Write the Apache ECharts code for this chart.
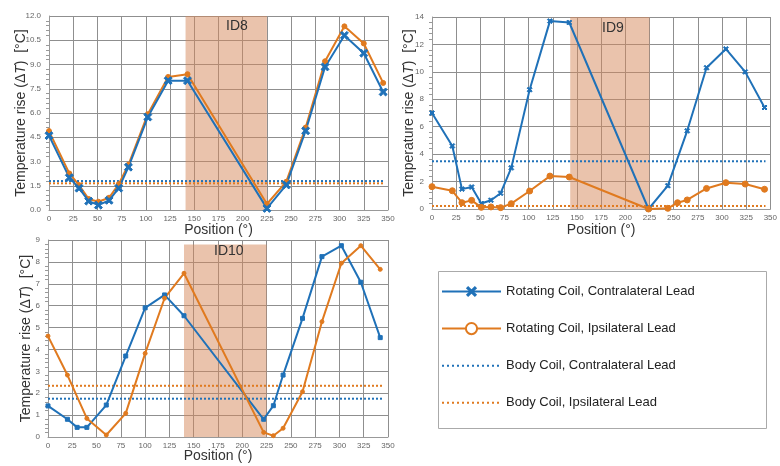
<!DOCTYPE html>
<html><head><meta charset="utf-8">
<script src="https://cdn.jsdelivr.net/npm/echarts@6/dist/echarts.min.js"></script>
<style>html,body{margin:0;padding:0;background:#fff}#c{width:780px;height:466px}</style>
</head><body><div id="c"></div>
<script>
// ---- data ----
const names = ['Rotating Coil, Contralateral Lead','Rotating Coil, Ipsilateral Lead','Body Coil, Contralateral Lead','Body Coil, Ipsilateral Lead'];
const panelLabels = ['ID8','ID9','ID10'];
// ID8
const pos8 = [0,21,31,41,51,62,72,82,102,123,143,225,245,265,285,305,325,345];
const contra8 = [4.6,2.0,1.35,0.55,0.3,0.6,1.35,2.65,5.75,8.0,8.0,0.1,1.55,4.9,8.85,10.8,9.7,7.3];
const ipsi8 = [4.88,2.26,1.54,0.68,0.51,0.76,1.6,2.8,5.93,8.23,8.4,0.37,1.75,5.1,9.2,11.36,10.3,7.86];
const body8 = [1.79,1.65];
// ID9
const pos9c = [0,21,31,41,51,61,71,82,101,122,142,224,244,264,284,304,324,344];
const contra9 = [7.0,4.6,1.45,1.6,0.4,0.64,1.15,3.0,8.7,13.7,13.6,0.0,1.7,5.7,10.3,11.67,10.0,7.4];
const pos9i = [0,21,31,41,51,61,71,82,101,122,142,224,244,254,264,284,304,324,344];
const ipsi9 = [1.63,1.33,0.46,0.63,0.12,0.15,0.1,0.39,1.31,2.4,2.33,0.0,0.05,0.46,0.66,1.5,1.92,1.82,1.44];
const body9 = [3.48,0.22];
// ID10
const pos10c = [0,20,30,40,60,80,100,120,140,222,232,242,262,282,302,322,342];
const contra10 = [1.42,0.81,0.44,0.44,1.46,3.7,5.9,6.49,5.54,0.81,1.43,2.83,5.42,8.24,8.74,7.07,4.54];
const pos10i = [0,20,40,60,80,100,120,140,222,232,242,262,282,302,322,342];
const ipsi10 = [4.61,2.83,0.85,0.09,1.08,3.82,6.34,7.48,0.21,0.06,0.4,2.07,5.27,7.94,8.74,7.66];
const body10 = [1.75,2.34];
const bodyRange = [0,345];
// shaded sectors [start,end,top]
const shade8 = [141,225,12];
const shade9 = [143,225,14];
const shade10 = [140,225,8.8];
const yMax = [12,14,9];
const yStep = [1.5,2,1];
const xTicks = [0,350,25];

// ---- styling ----
const BLUE = '#1f71b8', ORANGE = '#e07a1f';
const FONT = 'Liberation Sans, Arial, sans-serif';
const XSYM = 'path://M0,2L2,0L5,3L8,0L10,2L7,5L10,8L8,10L5,7L2,10L0,8L3,5Z';
const zip = (xs, ys) => xs.map((x,i)=>[x, ys[i]]);

const grids = [
  {left:49, top:16, width:339, height:194},
  {left:432, top:17, width:341, height:192},
  {left:48, top:240, width:340, height:197}
];
const xNameGap = [13,14,12];
const yNameGap = [21,16,15];

const xAxes = grids.map((g,i)=>({
  type:'value', gridIndex:i, min:xTicks[0], max:xTicks[1], interval:xTicks[2],
  name:'Position (°)', nameLocation:'middle', nameGap:xNameGap[i], nameMoveOverlap:false,
  nameTextStyle:{fontFamily:FONT, fontSize:14, color:'#333'},
  axisLine:{show:true, lineStyle:{color:'#999', width:1}},
  axisTick:{show:false},
  axisLabel:{fontFamily:FONT, fontSize:8, color:'#666', margin:5},
  splitLine:{show:true, lineStyle:{color:'#8f8f8f', width:1}}
}));
const yAxes = grids.map((g,i)=>({
  type:'value', gridIndex:i, min:0, max:yMax[i], interval:yStep[i],
  name:'{a|Temperature rise (Δ}{i|T}{a|)  [°C]}', nameLocation:'middle', nameGap:yNameGap[i], nameMoveOverlap:false,
  nameTextStyle:{rich:{a:{fontFamily:FONT, fontSize:14, color:'#333'}, i:{fontFamily:FONT, fontSize:14, fontStyle:'italic', color:'#333'}}},
  axisLine:{show:true, lineStyle:{color:'#999', width:1}},
  axisTick:{show:false},
  minorTick:{show:true, splitNumber:5, length:3, lineStyle:{color:'#999'}},
  axisLabel:{fontFamily:FONT, fontSize:8, color:'#666', margin:8,
    formatter: i===0 ? (v=>v.toFixed(1)) : (v=>String(v))},
  splitLine:{show:true, lineStyle:{color:'#8f8f8f', width:1}}
}));

function shadeSeries(i, s){
  return {type:'line', xAxisIndex:i, yAxisIndex:i, data:[], silent:true, z:1,
    markArea:{silent:true, itemStyle:{color:'rgba(214,135,90,0.5)'},
      data:[[{xAxis:s[0], yAxis:0},{xAxis:s[1], yAxis:s[2]}]]}};
}
function lineSeries(i, name, color, data, sym, size){
  return {type:'line', name, xAxisIndex:i, yAxisIndex:i, data, z:4,
    symbol:sym, symbolSize:size, showSymbol:true,
    lineStyle:{color, width:2}, itemStyle:{color, borderColor:color},
    animation:false};
}
function bodySeries(i, name, color, v){
  return {type:'line', name, xAxisIndex:i, yAxisIndex:i, z:3,
    data:[[bodyRange[0],v],[bodyRange[1],v]], symbol:'none',
    lineStyle:{color, width:2, type:[2,2]}, animation:false};
}

const series = [
  // legend style carriers
  {type:'line', name:names[0], xAxisIndex:0, yAxisIndex:0, data:[], symbol:XSYM, symbolSize:8, lineStyle:{color:BLUE,width:2}, itemStyle:{color:BLUE}},
  {type:'line', name:names[1], xAxisIndex:0, yAxisIndex:0, data:[], symbol:'emptyCircle', symbolSize:8, lineStyle:{color:ORANGE,width:2}, itemStyle:{color:ORANGE, borderColor:ORANGE, borderWidth:2}},
  {type:'line', name:names[2], xAxisIndex:0, yAxisIndex:0, data:[], symbol:'none', lineStyle:{color:BLUE,width:2,type:[2,3]}},
  {type:'line', name:names[3], xAxisIndex:0, yAxisIndex:0, data:[], symbol:'none', lineStyle:{color:ORANGE,width:2,type:[2,3]}},
  shadeSeries(0, shade8), shadeSeries(1, shade9), shadeSeries(2, shade10),
  bodySeries(0, names[2], BLUE, body8[0]), bodySeries(0, names[3], ORANGE, body8[1]),
  bodySeries(1, names[2], BLUE, body9[0]), bodySeries(1, names[3], ORANGE, body9[1]),
  bodySeries(2, names[2], BLUE, body10[0]), bodySeries(2, names[3], ORANGE, body10[1]),
  lineSeries(0, names[1], ORANGE, zip(pos8, ipsi8), 'circle', 5),
  lineSeries(0, names[0], BLUE, zip(pos8, contra8), XSYM, 8),
  lineSeries(1, names[0], BLUE, zip(pos9c, contra9), XSYM, 5),
  lineSeries(1, names[1], ORANGE, zip(pos9i, ipsi9), 'circle', 6),
  lineSeries(2, names[0], BLUE, zip(pos10c, contra10), 'rect', 4),
  lineSeries(2, names[1], ORANGE, zip(pos10i, ipsi10), 'circle', 4)
];

const chart = echarts.init(document.getElementById('c'), null, {renderer:'canvas'});
chart.setOption({
  animation:false,
  backgroundColor:'#fff',
  grid: grids,
  xAxis: xAxes,
  yAxis: yAxes,
  legend:{
    data:[
      {name:names[0]},
      {name:names[1]},
      {name:names[2], itemStyle:{opacity:0}},
      {name:names[3], itemStyle:{opacity:0}}
    ],
    orient:'vertical', left:441, top:285, padding:0,
    itemWidth:59, itemHeight:14, itemGap:24,
    textStyle:{fontFamily:FONT, fontSize:13, color:'#222'},
    selectedMode:false
  },
  graphic:[
    {type:'rect', left:436, top:269, shape:{width:328, height:157}, style:{fill:'none', stroke:'#aaa', lineWidth:1}, z:0},
    {type:'text', left:226, top:19, z:100, style:{text:panelLabels[0], font:'14px '+FONT, fill:'#333'}},
    {type:'text', left:602, top:21, z:100, style:{text:panelLabels[1], font:'14px '+FONT, fill:'#333'}},
    {type:'text', left:214, top:244, z:100, style:{text:panelLabels[2], font:'14px '+FONT, fill:'#333'}}
  ],
  series
});
</script></body></html>
